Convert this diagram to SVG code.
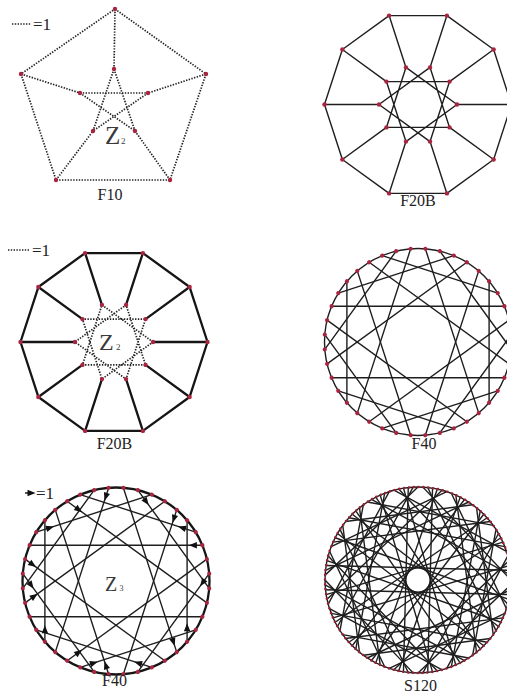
<svg xmlns="http://www.w3.org/2000/svg" xmlns:xlink="http://www.w3.org/1999/xlink" width="507" height="697" viewBox="0 0 507 697">
<style>
.v{fill:#a8253f}
.e{stroke:#1e1e1e;stroke-width:1.4;fill:none;stroke-linecap:round;stroke-linejoin:round}
.thick{stroke:#151515;stroke-width:2.3;fill:none;stroke-linecap:round;stroke-linejoin:round}
.dot{stroke:#222;stroke-width:1.7;fill:none;stroke-dasharray:1.4 1.4}
.lbl{font-family:"Liberation Serif","Times New Roman",serif;font-size:16px;fill:#222;text-anchor:middle}
.grp{font-family:"Liberation Serif","Times New Roman",serif;fill:#3a3a3a}
.leg{font-family:"Liberation Serif","Times New Roman",serif;font-size:17px;fill:#222}
</style>
<defs>
<circle id="v40" cx="93.5" cy="0" r="2.1"/>
<line id="c15" x1="93.5" y1="0" x2="-66.11" y2="-66.11"/>
<line id="c9" x1="93.5" y1="0" x2="14.63" y2="-92.35"/>
<path id="ah" d="M3.5,0 L-4.5,-3.2 L-4.5,3.2 Z"/>
<line id="s29" x1="93" y1="0" x2="4.87" y2="-92.87"/>
<line id="s39" x1="93" y1="0" x2="-42.22" y2="-82.86"/>
<line id="s55" x1="93" y1="0" x2="-89.83" y2="-24.07"/>
</defs>
<rect width="507" height="697" fill="#fff"/>

<!-- Panel 1: F10 (Petersen) -->
<g id="F10">
<g id="F10-edges" class="dot">
<polygon points="115,9 206,74 170,180 56,180 21,74"/>
<line x1="115" y1="9" x2="114" y2="69"/>
<line x1="21" y1="74" x2="80" y2="93"/>
<line x1="206" y1="74" x2="148" y2="93"/>
<line x1="56" y1="180" x2="93" y2="131"/>
<line x1="170" y1="180" x2="135" y2="131"/>
<line x1="114" y1="69" x2="93" y2="131"/>
<line x1="114" y1="69" x2="135" y2="131"/>
<line x1="80" y1="93" x2="148" y2="93"/>
<line x1="80" y1="93" x2="135" y2="131"/>
<line x1="148" y1="93" x2="93" y2="131"/>
</g>
<g id="F10-nodes" class="v">
<circle id="p0" cx="115" cy="9" r="2.2"/><circle id="p1" cx="21" cy="74" r="2.2"/><circle id="p2" cx="206" cy="74" r="2.2"/>
<circle id="p3" cx="56" cy="180" r="2.2"/><circle id="p4" cx="170" cy="180" r="2.2"/>
<circle id="p5" cx="114" cy="69" r="2.2"/><circle id="p6" cx="80" cy="93" r="2.2"/><circle id="p7" cx="148" cy="93" r="2.2"/>
<circle id="p8" cx="93" cy="131" r="2.2"/><circle id="p9" cx="135" cy="131" r="2.2"/>
</g>
<line x1="12" y1="24" x2="31" y2="24" class="dot"/>
<text x="33" y="29.5" class="leg">=1</text>
<text x="105" y="143.5" class="grp" font-size="25">Z</text><text x="121" y="144" class="grp" font-size="9">2</text>
<text x="110" y="200" class="lbl">F10</text>
</g>

<!-- Panel 2: F20B -->
<g id="F20B-top" transform="translate(418,104.5)">
<g class="e">
<polygon points="93.5,0 75.64,-54.96 28.89,-88.92 -28.89,-88.92 -75.64,-54.96 -93.5,0 -75.64,54.96 -28.89,88.92 28.89,88.92 75.64,54.96"/>
<polygon points="39,0 -12.05,-37.09 -31.55,22.92 31.55,22.92 12.05,-37.09 -39,0 12.05,37.09 31.55,-22.92 -31.55,-22.92 -12.05,37.09"/>
<line x1="93.5" y1="0" x2="39" y2="0"/>
<line x1="75.64" y1="-54.96" x2="31.55" y2="-22.92"/>
<line x1="28.89" y1="-88.92" x2="12.05" y2="-37.09"/>
<line x1="-28.89" y1="-88.92" x2="-12.05" y2="-37.09"/>
<line x1="-75.64" y1="-54.96" x2="-31.55" y2="-22.92"/>
<line x1="-93.5" y1="0" x2="-39" y2="0"/>
<line x1="-75.64" y1="54.96" x2="-31.55" y2="22.92"/>
<line x1="-28.89" y1="88.92" x2="-12.05" y2="37.09"/>
<line x1="28.89" y1="88.92" x2="12.05" y2="37.09"/>
<line x1="75.64" y1="54.96" x2="31.55" y2="22.92"/>
</g>
<g class="v">
<circle cx="93.5" cy="0" r="2.2"/><circle cx="75.64" cy="-54.96" r="2.2"/><circle cx="28.89" cy="-88.92" r="2.2"/><circle cx="-28.89" cy="-88.92" r="2.2"/><circle cx="-75.64" cy="-54.96" r="2.2"/>
<circle cx="-93.5" cy="0" r="2.2"/><circle cx="-75.64" cy="54.96" r="2.2"/><circle cx="-28.89" cy="88.92" r="2.2"/><circle cx="28.89" cy="88.92" r="2.2"/><circle cx="75.64" cy="54.96" r="2.2"/>
<circle cx="39" cy="0" r="2.2"/><circle cx="31.55" cy="-22.92" r="2.2"/><circle cx="12.05" cy="-37.09" r="2.2"/><circle cx="-12.05" cy="-37.09" r="2.2"/><circle cx="-31.55" cy="-22.92" r="2.2"/>
<circle cx="-39" cy="0" r="2.2"/><circle cx="-31.55" cy="22.92" r="2.2"/><circle cx="-12.05" cy="37.09" r="2.2"/><circle cx="12.05" cy="37.09" r="2.2"/><circle cx="31.55" cy="22.92" r="2.2"/>
</g>
</g>
<text x="418" y="206" class="lbl">F20B</text>

<!-- Panel 3: F20B with Z2 -->
<g id="F20B-z2" transform="translate(114,342)">
<g class="thick">
<polygon points="93.5,0 75.64,-54.96 28.89,-88.92 -28.89,-88.92 -75.64,-54.96 -93.5,0 -75.64,54.96 -28.89,88.92 28.89,88.92 75.64,54.96"/>
<line x1="93.5" y1="0" x2="39" y2="0"/>
<line x1="75.64" y1="-54.96" x2="31.55" y2="-22.92"/>
<line x1="28.89" y1="-88.92" x2="12.05" y2="-37.09"/>
<line x1="-28.89" y1="-88.92" x2="-12.05" y2="-37.09"/>
<line x1="-75.64" y1="-54.96" x2="-31.55" y2="-22.92"/>
<line x1="-93.5" y1="0" x2="-39" y2="0"/>
<line x1="-75.64" y1="54.96" x2="-31.55" y2="22.92"/>
<line x1="-28.89" y1="88.92" x2="-12.05" y2="37.09"/>
<line x1="28.89" y1="88.92" x2="12.05" y2="37.09"/>
<line x1="75.64" y1="54.96" x2="31.55" y2="22.92"/>
</g>
<polygon class="dot" points="39,0 -12.05,-37.09 -31.55,22.92 31.55,22.92 12.05,-37.09 -39,0 12.05,37.09 31.55,-22.92 -31.55,-22.92 -12.05,37.09"/>
<g class="v">
<circle cx="93.5" cy="0" r="2.2"/><circle cx="75.64" cy="-54.96" r="2.2"/><circle cx="28.89" cy="-88.92" r="2.2"/><circle cx="-28.89" cy="-88.92" r="2.2"/><circle cx="-75.64" cy="-54.96" r="2.2"/>
<circle cx="-93.5" cy="0" r="2.2"/><circle cx="-75.64" cy="54.96" r="2.2"/><circle cx="-28.89" cy="88.92" r="2.2"/><circle cx="28.89" cy="88.92" r="2.2"/><circle cx="75.64" cy="54.96" r="2.2"/>
<circle cx="39" cy="0" r="2.2"/><circle cx="31.55" cy="-22.92" r="2.2"/><circle cx="12.05" cy="-37.09" r="2.2"/><circle cx="-12.05" cy="-37.09" r="2.2"/><circle cx="-31.55" cy="-22.92" r="2.2"/>
<circle cx="-39" cy="0" r="2.2"/><circle cx="-31.55" cy="22.92" r="2.2"/><circle cx="-12.05" cy="37.09" r="2.2"/><circle cx="12.05" cy="37.09" r="2.2"/><circle cx="31.55" cy="22.92" r="2.2"/>
</g>
</g>
<line x1="8" y1="250" x2="29" y2="250" class="dot"/>
<text x="32" y="255.5" class="leg">=1</text>
<text x="99" y="349.5" class="grp" font-size="24">Z</text><text x="116" y="350" class="grp" font-size="9">2</text>
<text x="114.5" y="449" class="lbl">F20B</text>

<!-- Panel 4: F40 -->
<g id="F40-top" transform="translate(418,342)">
<circle r="93.5" class="e" stroke-width="1.3"/>
<g class="e" stroke-width="1.3">
<use href="#c15" transform="rotate(-22.5)"/><use href="#c15" transform="rotate(-58.5)"/><use href="#c15" transform="rotate(-94.5)"/><use href="#c15" transform="rotate(-130.5)"/><use href="#c15" transform="rotate(-166.5)"/>
<use href="#c15" transform="rotate(-202.5)"/><use href="#c15" transform="rotate(-238.5)"/><use href="#c15" transform="rotate(-274.5)"/><use href="#c15" transform="rotate(-310.5)"/><use href="#c15" transform="rotate(-346.5)"/>
<use href="#c9" transform="rotate(-31.5)"/><use href="#c9" transform="rotate(-67.5)"/><use href="#c9" transform="rotate(-103.5)"/><use href="#c9" transform="rotate(-139.5)"/><use href="#c9" transform="rotate(-175.5)"/>
<use href="#c9" transform="rotate(-211.5)"/><use href="#c9" transform="rotate(-247.5)"/><use href="#c9" transform="rotate(-283.5)"/><use href="#c9" transform="rotate(-319.5)"/><use href="#c9" transform="rotate(-355.5)"/>
</g>
<g class="v">
<use href="#v40" transform="rotate(4.5)"/><use href="#v40" transform="rotate(13.5)"/><use href="#v40" transform="rotate(22.5)"/><use href="#v40" transform="rotate(31.5)"/><use href="#v40" transform="rotate(40.5)"/>
<use href="#v40" transform="rotate(49.5)"/><use href="#v40" transform="rotate(58.5)"/><use href="#v40" transform="rotate(67.5)"/><use href="#v40" transform="rotate(76.5)"/><use href="#v40" transform="rotate(85.5)"/>
<use href="#v40" transform="rotate(94.5)"/><use href="#v40" transform="rotate(103.5)"/><use href="#v40" transform="rotate(112.5)"/><use href="#v40" transform="rotate(121.5)"/><use href="#v40" transform="rotate(130.5)"/>
<use href="#v40" transform="rotate(139.5)"/><use href="#v40" transform="rotate(148.5)"/><use href="#v40" transform="rotate(157.5)"/><use href="#v40" transform="rotate(166.5)"/><use href="#v40" transform="rotate(175.5)"/>
<use href="#v40" transform="rotate(184.5)"/><use href="#v40" transform="rotate(193.5)"/><use href="#v40" transform="rotate(202.5)"/><use href="#v40" transform="rotate(211.5)"/><use href="#v40" transform="rotate(220.5)"/>
<use href="#v40" transform="rotate(229.5)"/><use href="#v40" transform="rotate(238.5)"/><use href="#v40" transform="rotate(247.5)"/><use href="#v40" transform="rotate(256.5)"/><use href="#v40" transform="rotate(265.5)"/>
<use href="#v40" transform="rotate(274.5)"/><use href="#v40" transform="rotate(283.5)"/><use href="#v40" transform="rotate(292.5)"/><use href="#v40" transform="rotate(301.5)"/><use href="#v40" transform="rotate(310.5)"/>
<use href="#v40" transform="rotate(319.5)"/><use href="#v40" transform="rotate(328.5)"/><use href="#v40" transform="rotate(337.5)"/><use href="#v40" transform="rotate(346.5)"/><use href="#v40" transform="rotate(355.5)"/>
</g>
</g>
<text x="424" y="449" class="lbl">F40</text>

<!-- Panel 5: F40 with Z3 voltages -->
<g id="F40-z3" transform="translate(116,581)">
<circle r="93.5" class="thick" stroke-width="2"/>
<g class="e" stroke-width="1.3">
<use href="#c15" transform="rotate(-22.5)"/><use href="#c15" transform="rotate(-58.5)"/><use href="#c15" transform="rotate(-94.5)"/><use href="#c15" transform="rotate(-130.5)"/><use href="#c15" transform="rotate(-166.5)"/>
<use href="#c15" transform="rotate(-202.5)"/><use href="#c15" transform="rotate(-238.5)"/><use href="#c15" transform="rotate(-274.5)"/><use href="#c15" transform="rotate(-310.5)"/><use href="#c15" transform="rotate(-346.5)"/>
<use href="#c9" transform="rotate(-31.5)"/><use href="#c9" transform="rotate(-67.5)"/><use href="#c9" transform="rotate(-103.5)"/><use href="#c9" transform="rotate(-139.5)"/><use href="#c9" transform="rotate(-175.5)"/>
<use href="#c9" transform="rotate(-211.5)"/><use href="#c9" transform="rotate(-247.5)"/><use href="#c9" transform="rotate(-283.5)"/><use href="#c9" transform="rotate(-319.5)"/><use href="#c9" transform="rotate(-355.5)"/>
</g>
<g fill="#111">
<use href="#ah" transform="rotate(-94.5) translate(84.26,-3.83) rotate(-157.5)"/>
<use href="#ah" transform="rotate(-121.5) translate(79.64,5.74) rotate(157.5)"/>
<use href="#ah" transform="rotate(-148.5) translate(83.76,11.41) rotate(130.5)"/>
<use href="#ah" transform="rotate(-166.5) translate(84.26,-3.83) rotate(-157.5)"/>
<use href="#ah" transform="rotate(-175.5) translate(83.76,-11.41) rotate(-130.5)"/>
<use href="#ah" transform="rotate(-193.5) translate(82.41,4.59) rotate(157.5)"/>
<use href="#ah" transform="rotate(-220.5) translate(85.06,9.89) rotate(130.5)"/>
<use href="#ah" transform="rotate(-238.5) translate(79.64,-5.74) rotate(-157.5)"/>
<use href="#ah" transform="rotate(-247.5) translate(83.76,-11.41) rotate(-130.5)"/>
<use href="#ah" transform="rotate(-265.5) translate(84.26,3.83) rotate(157.5)"/>
<use href="#ah" transform="rotate(-292.5) translate(83.76,11.41) rotate(130.5)"/>
<use href="#ah" transform="rotate(-310.5) translate(84.26,-3.83) rotate(22.5)"/>
<use href="#ah" transform="rotate(-319.5) translate(83.76,-11.41) rotate(-130.5)"/>
<use href="#ah" transform="rotate(-4.5) translate(85.70,9.12) rotate(130.5)"/>
<use href="#ah" transform="rotate(-22.5) translate(84.26,-3.83) rotate(-157.5)"/>
<use href="#ah" transform="rotate(-31.5) translate(83.76,-11.41) rotate(-130.5)"/>
<use href="#ah" transform="rotate(-49.5) translate(84.26,3.83) rotate(157.5)"/>
<use href="#ah" transform="rotate(-76.5) translate(83.76,11.41) rotate(130.5)"/>
</g>
<g class="v">
<use href="#v40" transform="rotate(4.5)"/><use href="#v40" transform="rotate(13.5)"/><use href="#v40" transform="rotate(22.5)"/><use href="#v40" transform="rotate(31.5)"/><use href="#v40" transform="rotate(40.5)"/>
<use href="#v40" transform="rotate(49.5)"/><use href="#v40" transform="rotate(58.5)"/><use href="#v40" transform="rotate(67.5)"/><use href="#v40" transform="rotate(76.5)"/><use href="#v40" transform="rotate(85.5)"/>
<use href="#v40" transform="rotate(94.5)"/><use href="#v40" transform="rotate(103.5)"/><use href="#v40" transform="rotate(112.5)"/><use href="#v40" transform="rotate(121.5)"/><use href="#v40" transform="rotate(130.5)"/>
<use href="#v40" transform="rotate(139.5)"/><use href="#v40" transform="rotate(148.5)"/><use href="#v40" transform="rotate(157.5)"/><use href="#v40" transform="rotate(166.5)"/><use href="#v40" transform="rotate(175.5)"/>
<use href="#v40" transform="rotate(184.5)"/><use href="#v40" transform="rotate(193.5)"/><use href="#v40" transform="rotate(202.5)"/><use href="#v40" transform="rotate(211.5)"/><use href="#v40" transform="rotate(220.5)"/>
<use href="#v40" transform="rotate(229.5)"/><use href="#v40" transform="rotate(238.5)"/><use href="#v40" transform="rotate(247.5)"/><use href="#v40" transform="rotate(256.5)"/><use href="#v40" transform="rotate(265.5)"/>
<use href="#v40" transform="rotate(274.5)"/><use href="#v40" transform="rotate(283.5)"/><use href="#v40" transform="rotate(292.5)"/><use href="#v40" transform="rotate(301.5)"/><use href="#v40" transform="rotate(310.5)"/>
<use href="#v40" transform="rotate(319.5)"/><use href="#v40" transform="rotate(328.5)"/><use href="#v40" transform="rotate(337.5)"/><use href="#v40" transform="rotate(346.5)"/><use href="#v40" transform="rotate(355.5)"/>
</g>
</g>
<line x1="25" y1="493" x2="31" y2="493" stroke="#111" stroke-width="1.4"/>
<use href="#ah" transform="translate(32,493)" fill="#111"/>
<text x="36" y="498.5" class="leg">=1</text>
<text x="105" y="590.5" class="grp" font-size="20">Z</text><text x="119.5" y="591" class="grp" font-size="8">3</text>
<text x="114.5" y="686" class="lbl">F40</text>

<!-- Panel 6: S120 -->
<g id="S120" transform="translate(418,580)">
<circle r="93" class="e" stroke-width="1.1"/>
<g class="e" stroke-width="0.95">
<use href="#s29" transform="rotate(0)"/><use href="#s29" transform="rotate(-18)"/><use href="#s29" transform="rotate(-36)"/><use href="#s29" transform="rotate(-54)"/><use href="#s29" transform="rotate(-72)"/>
<use href="#s29" transform="rotate(-90)"/><use href="#s29" transform="rotate(-108)"/><use href="#s29" transform="rotate(-126)"/><use href="#s29" transform="rotate(-144)"/><use href="#s29" transform="rotate(-162)"/>
<use href="#s29" transform="rotate(-180)"/><use href="#s29" transform="rotate(-198)"/><use href="#s29" transform="rotate(-216)"/><use href="#s29" transform="rotate(-234)"/><use href="#s29" transform="rotate(-252)"/>
<use href="#s29" transform="rotate(-270)"/><use href="#s29" transform="rotate(-288)"/><use href="#s29" transform="rotate(-306)"/><use href="#s29" transform="rotate(-324)"/><use href="#s29" transform="rotate(-342)"/>
<use href="#s39" transform="rotate(-3)"/><use href="#s39" transform="rotate(-21)"/><use href="#s39" transform="rotate(-39)"/><use href="#s39" transform="rotate(-57)"/><use href="#s39" transform="rotate(-75)"/>
<use href="#s39" transform="rotate(-93)"/><use href="#s39" transform="rotate(-111)"/><use href="#s39" transform="rotate(-129)"/><use href="#s39" transform="rotate(-147)"/><use href="#s39" transform="rotate(-165)"/>
<use href="#s39" transform="rotate(-183)"/><use href="#s39" transform="rotate(-201)"/><use href="#s39" transform="rotate(-219)"/><use href="#s39" transform="rotate(-237)"/><use href="#s39" transform="rotate(-255)"/>
<use href="#s39" transform="rotate(-273)"/><use href="#s39" transform="rotate(-291)"/><use href="#s39" transform="rotate(-309)"/><use href="#s39" transform="rotate(-327)"/><use href="#s39" transform="rotate(-345)"/>
<use href="#s55" transform="rotate(-6)"/><use href="#s55" transform="rotate(-24)"/><use href="#s55" transform="rotate(-42)"/><use href="#s55" transform="rotate(-60)"/><use href="#s55" transform="rotate(-78)"/>
<use href="#s55" transform="rotate(-96)"/><use href="#s55" transform="rotate(-114)"/><use href="#s55" transform="rotate(-132)"/><use href="#s55" transform="rotate(-150)"/><use href="#s55" transform="rotate(-168)"/>
<use href="#s55" transform="rotate(-186)"/><use href="#s55" transform="rotate(-204)"/><use href="#s55" transform="rotate(-222)"/><use href="#s55" transform="rotate(-240)"/><use href="#s55" transform="rotate(-258)"/>
<use href="#s55" transform="rotate(-276)"/><use href="#s55" transform="rotate(-294)"/><use href="#s55" transform="rotate(-312)"/><use href="#s55" transform="rotate(-330)"/><use href="#s55" transform="rotate(-348)"/>
</g>
<circle r="93" fill="none" stroke="#9b2235" stroke-width="2.6" stroke-linecap="round" stroke-dasharray="0 4.8695"/>
</g>
<text x="420.5" y="691" class="lbl">S120</text>
</svg>
